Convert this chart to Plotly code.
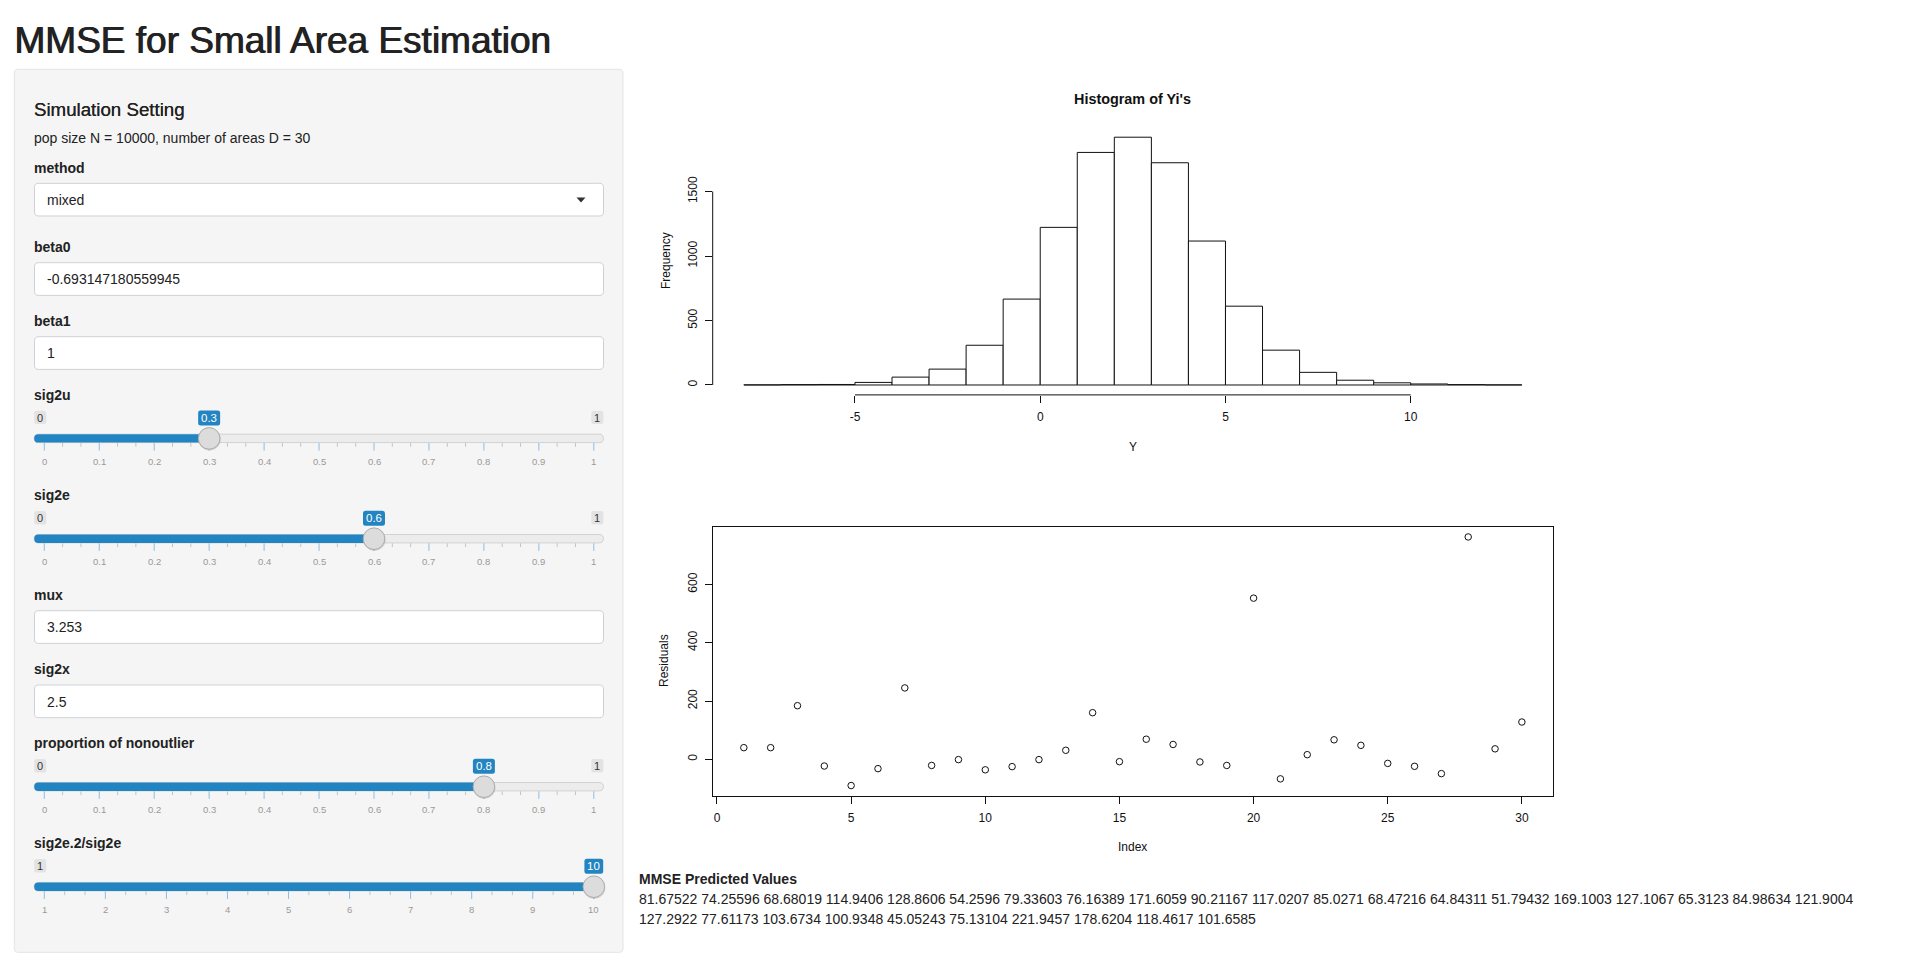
import plotly.graph_objects as go

W, H = 1919, 970
FONT = "Liberation Sans"
RFONT = "Liberation Sans"

# ---------------- data ----------------
hist_breaks = list(range(-8, 14))
hist_counts = [1, 3, 4, 20, 61, 123, 308, 666, 1222, 1803, 1921, 1723,
               1116, 611, 270, 98, 37, 17, 8, 3, 1]
hist_xticks = [-5, 0, 5, 10]
hist_yticks = [0, 500, 1000, 1500]

resid_index = list(range(1, 31))
residuals = [40, 40, 184, -23, -90, -32, 245, -21, -1, -36,
             -25, -1, 31, 160, -8, 69, 51, -9, -21, 553,
             -67, 16, 67, 48, -14, -24, -49, 763, 36, 128]
resid_xticks = [0, 5, 10, 15, 20, 25, 30]
resid_yticks = [0, 200, 400, 600]

pred_values = [81.67522, 74.25596, 68.68019, 114.9406, 128.8606, 54.2596,
               79.33603, 76.16389, 171.6059, 90.21167, 117.0207, 85.0271,
               68.47216, 64.84311, 51.79432, 169.1003, 127.1067, 65.3123,
               84.98634, 121.9004, 127.2922, 77.61173, 103.6734, 100.9348,
               45.05243, 75.13104, 221.9457, 178.6204, 118.4617, 101.6585]

input_labels = ["method", "beta0", "beta1", "mux", "sig2x"]
input_values = ["mixed", "-0.693147180559945", "1", "3.253", "2.5"]
input_label_y = [168.3, 247.3, 321.5, 595.0, 669.3]
input_box_top = [183.3, 262.7, 336.7, 610.7, 685.0]

slider_labels = ["sig2u", "sig2e", "proportion of nonoutlier", "sig2e.2/sig2e"]
slider_min = [0, 0, 0, 1]
slider_max = [1, 1, 1, 10]
slider_value = [0.3, 0.6, 0.8, 10]
slider_step = [0.1, 0.1, 0.1, 1]
slider_label_y = [395.0, 495.0, 743.3, 843.3]
slider_track_y = [438.4, 538.7, 786.7, 886.7]

BLUE = "#2384c2"
TXT = "#222222"

shapes = []
annotations = []


def X(v):
    return v / W


def Y(v):
    return 1 - v / H


def rrect(x0, y0, x1, y1, r, fill, line=None, lw=1):
    r = min(r, (x1 - x0) / 2, (y1 - y0) / 2)
    pts = [("M", [(x0 + r, y0)]), ("L", [(x1 - r, y0)]), ("Q", [(x1, y0), (x1, y0 + r)]),
           ("L", [(x1, y1 - r)]), ("Q", [(x1, y1), (x1 - r, y1)]), ("L", [(x0 + r, y1)]),
           ("Q", [(x0, y1), (x0, y1 - r)]), ("L", [(x0, y0 + r)]), ("Q", [(x0, y0), (x0 + r, y0)])]
    p = ""
    for cmd, pp in pts:
        p += cmd + " ".join("%.6f,%.6f" % (X(a), Y(b)) for a, b in pp) + " "
    p += "Z"
    shapes.append(dict(type="path", xref="paper", yref="paper", path=p, fillcolor=fill,
                       line=dict(color=line or fill, width=lw if line else 0), layer="above"))


def seg(x0, y0, x1, y1, color, lw=1):
    shapes.append(dict(type="line", xref="paper", yref="paper", x0=X(x0), y0=Y(y0),
                       x1=X(x1), y1=Y(y1), line=dict(color=color, width=lw), layer="above"))


def circ(cx, cy, r, fill, line=None, lw=1):
    shapes.append(dict(type="circle", xref="paper", yref="paper", x0=X(cx - r), y0=Y(cy + r),
                       x1=X(cx + r), y1=Y(cy - r), fillcolor=fill,
                       line=dict(color=line or fill, width=lw if line else 0), layer="above"))


def text(x, y, s, size=14, color=TXT, bold=False, xanchor="left", angle=0, family=FONT):
    annotations.append(dict(x=X(x), y=Y(y), xref="paper", yref="paper",
                            text="<b>%s</b>" % s if bold else s, showarrow=False,
                            xanchor=xanchor, yanchor="middle", textangle=angle,
                            font=dict(family=family, size=size, color=color), borderpad=0))


def medium(x, y, s, size, color=TXT, off=0.6):
    # medium weight look: regular glyphs drawn twice with a sub-pixel offset
    text(x, y, s, size=size, color=color)
    text(x + off, y, s, size=size, color=color)


def tw(s, size):
    w = 0
    for ch in s:
        w += 0.278 if ch in ".," else 0.556
    return w * size


# ---------------- page header & panel ----------------
medium(13, 41, "MMSE for Small Area Estimation", 37)
rrect(14.3, 69.3, 623, 952.3, 4, "#f5f5f5", "#e3e3e3", 1)
medium(33, 109.5, "Simulation Setting", 18.7, off=0.25)
text(33, 138.5, "pop size N = 10000, number of areas D = 30", size=14)

# text inputs / select
for lab, val, ly, top in zip(input_labels, input_values, input_label_y, input_box_top):
    text(33, ly, lab, size=14, bold=True)
    rrect(34.5, top, 603.5, top + 32.7, 4, "white", "#cdd1d5", 1)
    text(46, top + 16.6, val, size=14)
    if lab == "method":
        cy = top + 16.6
        shapes.append(dict(type="path", xref="paper", yref="paper",
                           path="M%.6f,%.6f L%.6f,%.6f L%.6f,%.6f Z" % (
                               X(576.5), Y(cy - 2.5), X(585.5), Y(cy - 2.5), X(581), Y(cy + 2.5)),
                           fillcolor="#333", line=dict(width=0), layer="above"))

# sliders
XL, XR = 34.2, 603.4
G0, G1 = 44.3, 593.8
for lab, vmin, vmax, val, step, ly, ty in zip(slider_labels, slider_min, slider_max, slider_value,
                                              slider_step, slider_label_y, slider_track_y):
    text(33, ly, lab, size=14, bold=True)
    frac = (val - vmin) / (vmax - vmin)
    hx = G0 + frac * (G1 - G0)
    rrect(XL, ty - 4.2, XR, ty + 4.2, 4.2, "#ececec", "#d2d2d2", 1)
    rrect(XL, ty - 4.2, hx + 2, ty + 4.2, 4.2, BLUE)
    n = int(round((vmax - vmin) / step))
    sp = (G1 - G0) / n
    for k in range(n + 1):
        gx = G0 + k * sp
        seg(gx, ty + 4.6, gx, ty + 12.2, "#8dbde0", 1)
        v = vmin + k * step
        lbl = ("%g" % round(v, 6))
        text(gx, ty + 22.6, lbl, size=9.5, color="#999999", xanchor="center")
        if k < n:
            for j in (1, 2):
                seg(gx + j * sp / 3, ty + 4.6, gx + j * sp / 3, ty + 8.4, "#c4c4c4", 1)
    # min / max badges
    smin, smax, sval = "%g" % vmin, "%g" % vmax, "%g" % val
    wmin = tw(smin, 11) + 6
    rrect(XL, ty - 27.7, XL + wmin, ty - 14.3, 2.5, "#e3e3e3")
    text(XL + wmin / 2, ty - 20.8, smin, size=11, color="#333", xanchor="center")
    wval = tw(sval, 11.5) + 6
    wmax = tw(smax, 11) + 6
    if hx + wval / 2 < XR - wmax - 2:
        rrect(XR - wmax, ty - 27.7, XR, ty - 14.3, 2.5, "#e3e3e3")
        text(XR - wmax / 2, ty - 20.8, smax, size=11, color="#333", xanchor="center")
    rrect(hx - wval / 2, ty - 27.9, hx + wval / 2, ty - 12.9, 2.5, BLUE)
    text(hx, ty - 20.4, sval, size=11.5, color="white", xanchor="center")
    # handle
    circ(hx + 0.4, ty + 1.0, 11.2, "rgba(0,0,0,0.13)")
    circ(hx, ty, 10.8, "#dcdcdc", "#ababab", 1)

# ---------------- R-style plots ----------------
HX0, HX1 = 712.7, 1553.0
hist_centers = [(a + b) / 2 for a, b in zip(hist_breaks[:-1], hist_breaks[1:])]
hist_widths = [b - a for a, b in zip(hist_breaks[:-1], hist_breaks[1:])]
hx_lo, hx_hi = hist_breaks[0], hist_breaks[-1]
hx_pad = 0.04 * (hx_hi - hx_lo)
hy_hi = max(hist_counts)
hy_pad = 0.04 * hy_hi

rx_lo, rx_hi = min(resid_index), max(resid_index)
rx_pad = 0.04 * (rx_hi - rx_lo)
ry_lo, ry_hi = min(residuals), max(residuals)
ry_pad = 0.04 * (ry_hi - ry_lo)

fig = go.Figure()
fig.add_trace(go.Bar(x=hist_centers, y=hist_counts, width=hist_widths,
                     marker=dict(color="white", line=dict(color="#111", width=1)),
                     xaxis="x", yaxis="y", hoverinfo="skip"))
fig.add_trace(go.Scatter(x=resid_index, y=residuals, mode="markers",
                         marker=dict(symbol="circle-open", size=6.5, color="#111",
                                     line=dict(width=1, color="#111")),
                         xaxis="x2", yaxis="y2", hoverinfo="skip"))

axis_common = dict(ticks="outside", ticklen=7, tickwidth=1, tickcolor="#111", showgrid=False,
                   zeroline=False, tickmode="array", fixedrange=True,
                   tickfont=dict(family=RFONT, size=12, color="#111"))


def tt(vals):
    return [str(v) for v in vals]


fig.update_layout(
    width=W, height=H, margin=dict(l=0, r=0, t=0, b=0, pad=0),
    paper_bgcolor="white", plot_bgcolor="rgba(0,0,0,0)", showlegend=False, bargap=0,
    xaxis=dict(domain=[X(HX0), X(HX1)], range=[hx_lo - hx_pad, hx_hi + hx_pad], anchor="y",
               tickvals=hist_xticks, ticktext=tt(hist_xticks), showline=False,
               ticklabelstandoff=4, **axis_common),
    yaxis=dict(domain=[Y(394.9), Y(127.3)], range=[-hy_pad, hy_hi + hy_pad], anchor="x",
               tickvals=hist_yticks, ticktext=tt(hist_yticks), tickangle=-90, showline=False,
               ticklabelstandoff=3, **axis_common),
    xaxis2=dict(domain=[X(HX0), X(HX1)], range=[rx_lo - rx_pad, rx_hi + rx_pad], anchor="y2",
                tickvals=resid_xticks, ticktext=tt(resid_xticks), showline=True, mirror=True,
                linecolor="#111", linewidth=1, ticklabelstandoff=4, **axis_common),
    yaxis2=dict(domain=[Y(795.5), Y(527.0)], range=[ry_lo - ry_pad, ry_hi + ry_pad], anchor="x2",
                tickvals=resid_yticks, ticktext=tt(resid_yticks), tickangle=-90, showline=True,
                mirror=True, linecolor="#111", linewidth=1, ticklabelstandoff=3, **axis_common),
)

# R-style axis lines spanning only the tick range
shapes.append(dict(type="line", xref="x", yref="y domain", x0=hist_xticks[0], x1=hist_xticks[-1],
                   y0=0, y1=0, line=dict(color="#111", width=1), layer="above"))
shapes.append(dict(type="line", xref="x domain", yref="y", x0=0, x1=0, y0=hist_yticks[0],
                   y1=hist_yticks[-1], line=dict(color="#111", width=1), layer="above"))

cx = (HX0 + HX1) / 2
text(cx, 99.5, "Histogram of Yi's", size=14.4, bold=True, color="#111", xanchor="center", family=RFONT)
text(cx, 447, "Y", size=12, color="#111", xanchor="center", family=RFONT)
text(666, 261, "Frequency", size=12, color="#111", xanchor="center", angle=-90, family=RFONT)
text(cx, 847, "Index", size=12, color="#111", xanchor="center", family=RFONT)
text(664, 661, "Residuals", size=12, color="#111", xanchor="center", angle=-90, family=RFONT)

# ---------------- predicted values text ----------------
pv = ["%.7g" % v for v in pred_values]
text(638, 879, "MMSE Predicted Values", size=14, bold=True)
text(638, 898.5, " ".join(pv[:20]), size=14)
text(638, 919, " ".join(pv[20:]), size=14)

fig.update_layout(shapes=shapes, annotations=annotations)
fig.write_html("out.html", config={"displayModeBar": False, "staticPlot": True},
               post_script="document.body.style.margin='0';document.body.style.overflow='hidden';")
